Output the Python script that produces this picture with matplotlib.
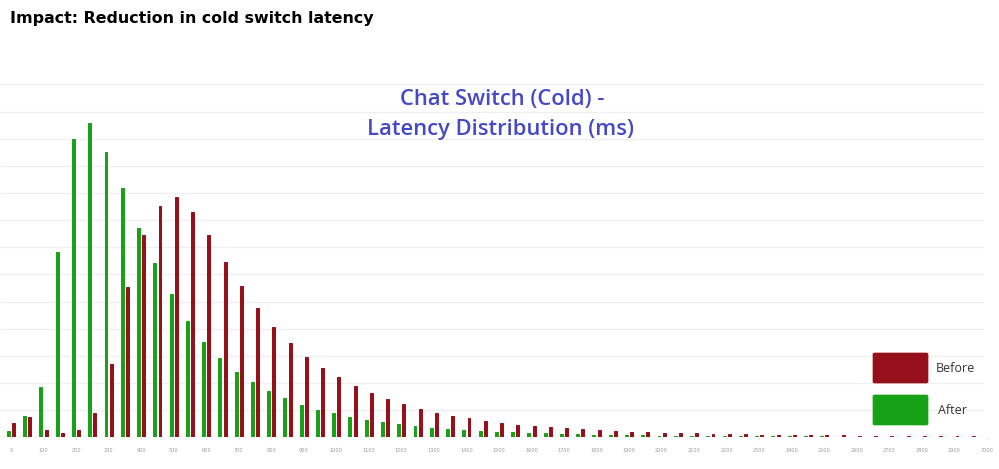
import numpy as np
import matplotlib
matplotlib.use("Agg")
import matplotlib.pyplot as plt
from matplotlib.patches import FancyBboxPatch

# Latency bins (ms), 50 ms wide
bins = list(range(0, 3000, 50))

# Share of switches per bin (in gridline units)
after = [0.22, 0.80, 1.86, 6.84, 10.98, 11.59, 10.52, 9.17, 7.72, 6.41,
         5.27, 4.29, 3.52, 2.91, 2.39, 2.04, 1.69, 1.44, 1.20, 1.02,
         0.90, 0.75, 0.65, 0.55, 0.48, 0.42, 0.35, 0.31, 0.27, 0.24,
         0.20, 0.18, 0.16, 0.15, 0.12, 0.11, 0.085, 0.085, 0.074, 0.074,
         0.063, 0.055, 0.052, 0.048, 0.044, 0.041, 0.037, 0.037, 0.033, 0.030,
         0.030, 0.026, 0.026, 0.022, 0.022, 0.018, 0.018, 0.018, 0.015, 0.015]
before = [0.52, 0.74, 0.27, 0.15, 0.26, 0.91, 2.71, 5.52, 7.44, 8.53,
          8.84, 8.31, 7.44, 6.47, 5.57, 4.77, 4.07, 3.46, 2.96, 2.56,
          2.21, 1.89, 1.62, 1.40, 1.23, 1.05, 0.91, 0.80, 0.70, 0.61,
          0.54, 0.46, 0.42, 0.38, 0.33, 0.29, 0.26, 0.23, 0.21, 0.18,
          0.17, 0.155, 0.144, 0.133, 0.122, 0.110, 0.103, 0.096, 0.088, 0.081,
          0.074, 0.070, 0.066, 0.063, 0.059, 0.055, 0.052, 0.048, 0.044, 0.041]
xticks = list(range(0, 3001, 100))
series_names = ["Before", "After"]

RED = "#95101b"
GREEN = "#17a117"

W, H = 999, 469
fig = plt.figure(figsize=(W / 100, H / 100), dpi=100)
fig.patch.set_facecolor("white")

px_per_unit = 27.15
base_px = 437.3
x0_px = 11.0
px_per_ms = 32.53 / 100
xlim = (-x0_px / px_per_ms, 3020)
ymax = 13.6
ax_right_px = x0_px + (xlim[1]) * px_per_ms
ax = fig.add_axes([0, 1 - base_px / H, ax_right_px / W, ymax * px_per_unit / H])
ax.set_xlim(*xlim)
ax.set_ylim(0, ymax)

# gridlines
for g in range(1, 14):
    ax.hlines(g, xlim[0], 2990, color="#efefef", lw=0.9, zorder=0)
ax.hlines(0, xlim[0], 2990, color="#d6dce8", lw=1.0, zorder=1)

bw = 9
off = 8
x = np.array(bins, dtype=float)
ax.bar(x - off, after, width=bw, color=GREEN, edgecolor=GREEN, lw=0.7, zorder=2)
ax.bar(x + off, before, width=bw, color=RED, edgecolor=RED, lw=0.7, zorder=2)

for s in ax.spines.values():
    s.set_visible(False)
ax.set_yticks([])
ax.set_xticks(xticks)
ax.set_xticklabels([str(t) for t in xticks], fontsize=3.6, color="#9a9a9a")
ax.tick_params(axis="x", length=2, width=0.5, color="#d6dce8", pad=6)

# chart title
fig.text(502 / W, 1 - 99 / H, "Chat Switch (Cold) -", ha="center", va="center",
         fontsize=15.8, color="#4549c8", family="Open Sans", weight="semibold")
fig.text(500 / W, 1 - 130 / H, "Latency Distribution (ms)", ha="center", va="center",
         fontsize=15.8, color="#4549c8", family="Open Sans", weight="semibold")

# header
fig.text(10 / W, 1 - 18 / H, "Impact: Reduction in cold switch latency", ha="left",
         va="center", fontsize=11.4, color="black", family="DejaVu Sans", weight="bold")

# legend
for (y0, y1, c, name, tx) in [(353, 383, RED, series_names[0], 936),
                              (395, 425, GREEN, series_names[1], 938)]:
    p = FancyBboxPatch((873 / W, 1 - y1 / H), 55 / W, (y1 - y0) / H,
                       boxstyle="round,pad=0,rounding_size=0.002",
                       transform=fig.transFigure, facecolor=c, edgecolor=c, lw=0.5)
    fig.patches.append(p)
    fig.text(tx / W, 1 - (y0 + y1) / 2 / H, name, ha="left", va="center",
             fontsize=9, color="#333333", family="Open Sans")

fig.savefig("out.png", dpi=100, facecolor="white")
